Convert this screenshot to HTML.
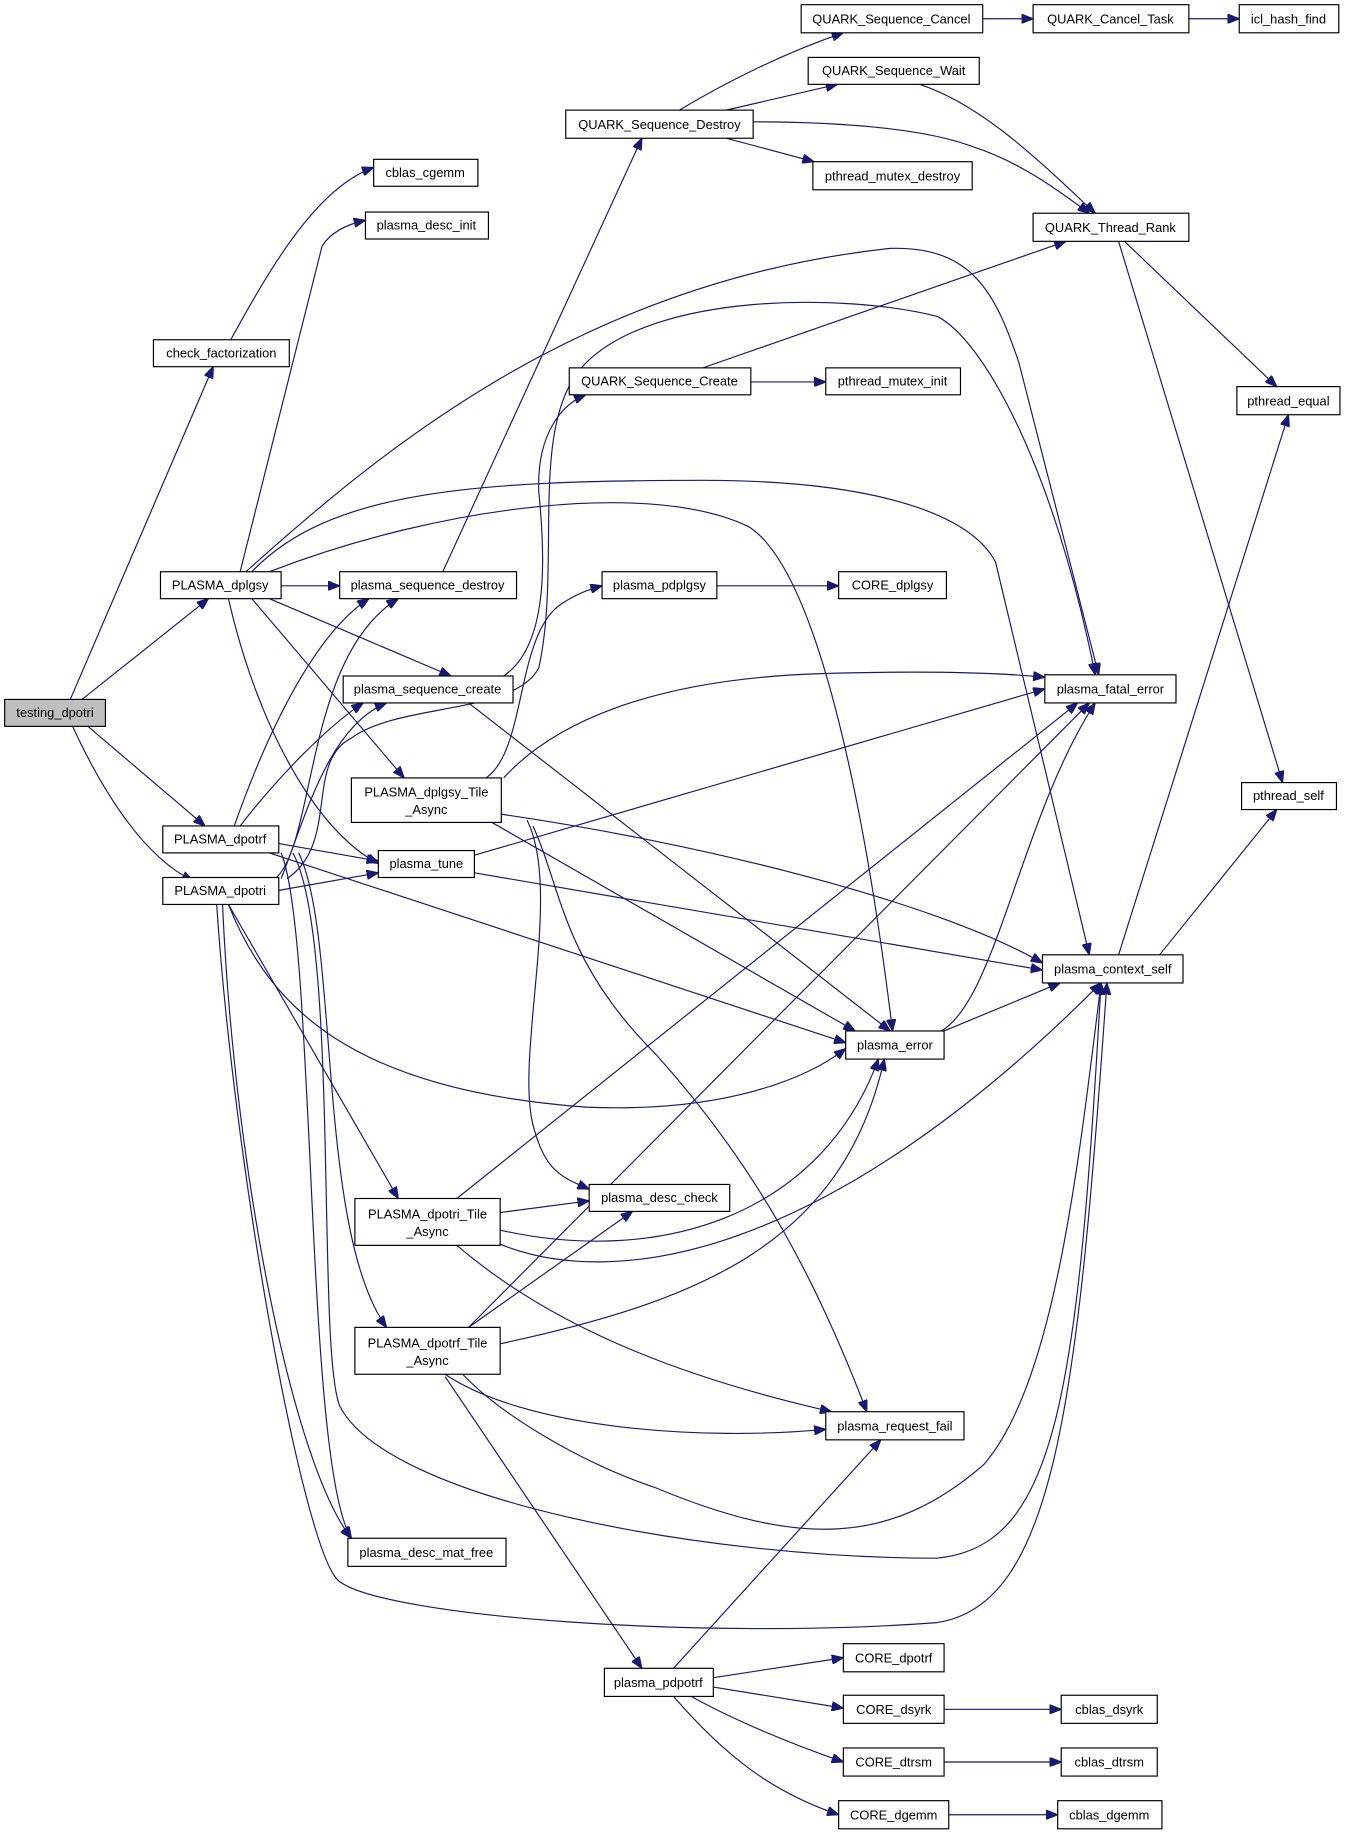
<!DOCTYPE html>
<html><head><meta charset="utf-8"><style>
html,body{margin:0;padding:0;background:#fff;}
svg{display:block;}
text{font-family:"Liberation Sans",Arial,sans-serif;font-size:11px;fill:#000;text-anchor:middle;}
.n rect{fill:#fff;stroke:#000;stroke-width:1;}
.e path{fill:none;stroke:#191970;stroke-width:1;marker-end:url(#a);}
</style></head><body>
<svg width="1347" height="1837" viewBox="0 0 1150 1568" preserveAspectRatio="none" xmlns="http://www.w3.org/2000/svg">
<defs><marker id="a" viewBox="0 0 10 8" refX="10" refY="4" markerWidth="10" markerHeight="8" markerUnits="userSpaceOnUse" orient="auto"><path d="M0,0 L10,4 L0,8 z" fill="#191970" stroke="#191970"/></marker></defs>
<g class="e">
<path d="M60,597 L182,313"/>
<path d="M70,597 L178,511"/>
<path d="M75,620 L175,705"/>
<path d="M62,620 C85,670 120,730 165,752"/>
<path d="M197,290 C230,230 270,160 319,143"/>
<path d="M205,488 L275,210 Q285,194 312,188"/>
<path d="M240,500 L290,500"/>
<path d="M230,511 L385,577"/>
<path d="M215,511 L345,664"/>
<path d="M195,511 C220,620 270,710 323,737"/>
<path d="M210,488 C330,380 500,240 760,212 C830,210 850,250 870,310 L938,576"/>
<path d="M215,488 C280,420 400,410 600,410 C750,410 830,440 850,480 L930,815"/>
<path d="M230,488 C380,430 560,410 640,450 C700,490 740,700 762,880"/>
<path d="M378,488 L548,118"/>
<path d="M580,94 C620,70 670,45 720,28"/>
<path d="M620,94 L715,72"/>
<path d="M620,118 L695,138"/>
<path d="M643,104 C720,104 790,110 830,125 C870,138 900,160 930,182"/>
<path d="M839,16 L882,16"/>
<path d="M1015,16 L1058,16"/>
<path d="M785,72 C840,90 890,140 935,182"/>
<path d="M600,314 L910,206"/>
<path d="M641,326 L705,326"/>
<path d="M430,577 C470,550 465,470 460,420 C458,370 480,345 500,337"/>
<path d="M400,600 L760,880"/>
<path d="M960,206 L1090,330"/>
<path d="M955,206 L1095,668"/>
<path d="M955,815 L1100,354"/>
<path d="M990,815 L1090,691"/>
<path d="M806,880 L905,839"/>
<path d="M800,882 C850,860 870,700 935,600"/>
<path d="M612,500 L716,500"/>
<path d="M415,664 C450,640 440,540 480,515 Q495,505 514,500"/>
<path d="M430,664 C470,620 550,580 700,575 C800,572 860,575 892,578"/>
<path d="M428,695 C600,720 800,770 890,822"/>
<path d="M420,702 L730,880"/>
<path d="M450,700 C480,760 440,900 455,960 C465,1000 480,1005 503,1015"/>
<path d="M455,705 C480,760 480,820 560,900 C650,1000 700,1100 740,1205"/>
<path d="M405,730 L892,588"/>
<path d="M405,745 L890,828"/>
<path d="M427,1035 L503,1025"/>
<path d="M390,1023 L920,600"/>
<path d="M427,1050 C560,1080 700,1040 750,904"/>
<path d="M427,1062 C520,1100 700,1080 940,839"/>
<path d="M390,1063 C480,1140 600,1180 710,1205"/>
<path d="M400,1133 L930,600"/>
<path d="M400,1133 L540,1034"/>
<path d="M427,1147 C600,1110 720,1060 755,904"/>
<path d="M380,1173 C450,1220 600,1230 705,1220"/>
<path d="M395,1173 C430,1210 500,1250 560,1270 C680,1320 760,1320 840,1250 C900,1180 920,1000 940,839"/>
<path d="M380,1175 L548,1424"/>
<path d="M575,1424 L752,1229"/>
<path d="M609,1432 L720,1415"/>
<path d="M609,1440 L720,1458"/>
<path d="M590,1448 C630,1470 680,1490 720,1504"/>
<path d="M575,1448 C620,1500 660,1530 716,1549"/>
<path d="M806,1459 L906,1459"/>
<path d="M806,1504 L906,1504"/>
<path d="M810,1549 L903,1549"/>
<path d="M200,705 C230,620 270,540 315,511"/>
<path d="M205,705 C240,660 280,620 310,600"/>
<path d="M238,720 L323,735"/>
<path d="M230,728 L722,890"/>
<path d="M255,728 C290,800 270,1050 330,1133"/>
<path d="M240,728 C270,800 260,1250 300,1313"/>
<path d="M250,728 C290,800 270,1150 290,1200 C330,1280 600,1330 800,1330 C900,1320 920,1200 940,839"/>
<path d="M235,750 C270,720 260,560 340,511"/>
<path d="M240,750 C260,700 280,620 330,600"/>
<path d="M238,760 L323,745"/>
<path d="M195,772 C230,860 300,930 500,945 C620,950 690,920 722,895"/>
<path d="M195,772 L340,1023"/>
<path d="M190,772 C200,1000 250,1250 300,1313"/>
<path d="M185,772 C200,1000 260,1330 290,1350 C330,1380 600,1400 800,1385 C900,1370 920,1200 945,839"/>
<path d="M245,750 C290,720 260,650 300,630 C340,600 440,610 460,570 C480,480 450,360 500,310 C560,250 720,250 800,270 C840,290 900,400 935,576"/>
</g>
<g class="n">
<rect x="4" y="597" width="86" height="23" style="fill:#bfbfbf"/><text x="47" y="612">testing_dpotri</text>
<rect x="131" y="290" width="116" height="23"/><text x="189" y="305">check_factorization</text>
<rect x="319" y="136" width="89" height="23"/><text x="363" y="151">cblas_cgemm</text>
<rect x="312" y="181" width="105" height="23"/><text x="364" y="196">plasma_desc_init</text>
<rect x="137" y="488" width="103" height="23"/><text x="188" y="503">PLASMA_dplgsy</text>
<rect x="290" y="488" width="151" height="23"/><text x="365" y="503">plasma_sequence_destroy</text>
<rect x="293" y="577" width="145" height="23"/><text x="365" y="592">plasma_sequence_create</text>
<rect x="300" y="664" width="128" height="38"/><text x="364" y="680">PLASMA_dplgsy_Tile</text><text x="364" y="695">_Async</text>
<rect x="139" y="705" width="99" height="23"/><text x="188" y="720">PLASMA_dpotrf</text>
<rect x="139" y="749" width="99" height="23"/><text x="188" y="764">PLASMA_dpotri</text>
<rect x="323" y="726" width="82" height="23"/><text x="364" y="741">plasma_tune</text>
<rect x="483" y="94" width="160" height="24"/><text x="563" y="110">QUARK_Sequence_Destroy</text>
<rect x="486" y="314" width="155" height="23"/><text x="563" y="329">QUARK_Sequence_Create</text>
<rect x="514" y="488" width="98" height="23"/><text x="563" y="503">plasma_pdplgsy</text>
<rect x="684" y="4" width="155" height="24"/><text x="761" y="20">QUARK_Sequence_Cancel</text>
<rect x="690" y="49" width="146" height="23"/><text x="763" y="64">QUARK_Sequence_Wait</text>
<rect x="694" y="138" width="136" height="24"/><text x="762" y="154">pthread_mutex_destroy</text>
<rect x="705" y="314" width="115" height="23"/><text x="762" y="329">pthread_mutex_init</text>
<rect x="716" y="488" width="92" height="23"/><text x="762" y="503">CORE_dplgsy</text>
<rect x="882" y="4" width="133" height="24"/><text x="948" y="20">QUARK_Cancel_Task</text>
<rect x="1058" y="4" width="85" height="24"/><text x="1100" y="20">icl_hash_find</text>
<rect x="882" y="182" width="133" height="24"/><text x="948" y="198">QUARK_Thread_Rank</text>
<rect x="1056" y="330" width="88" height="24"/><text x="1100" y="346">pthread_equal</text>
<rect x="1060" y="668" width="81" height="23"/><text x="1100" y="683">pthread_self</text>
<rect x="892" y="576" width="112" height="24"/><text x="948" y="592">plasma_fatal_error</text>
<rect x="890" y="815" width="120" height="24"/><text x="950" y="831">plasma_context_self</text>
<rect x="722" y="880" width="84" height="24"/><text x="764" y="896">plasma_error</text>
<rect x="503" y="1011" width="120" height="23"/><text x="563" y="1026">plasma_desc_check</text>
<rect x="303" y="1023" width="124" height="40"/><text x="365" y="1040">PLASMA_dpotri_Tile</text><text x="365" y="1055">_Async</text>
<rect x="303" y="1133" width="124" height="40"/><text x="365" y="1150">PLASMA_dpotrf_Tile</text><text x="365" y="1165">_Async</text>
<rect x="705" y="1205" width="118" height="24"/><text x="764" y="1221">plasma_request_fail</text>
<rect x="297" y="1313" width="135" height="24"/><text x="364" y="1329">plasma_desc_mat_free</text>
<rect x="516" y="1424" width="93" height="24"/><text x="562" y="1440">plasma_pdpotrf</text>
<rect x="720" y="1403" width="86" height="24"/><text x="763" y="1419">CORE_dpotrf</text>
<rect x="720" y="1447" width="86" height="24"/><text x="763" y="1463">CORE_dsyrk</text>
<rect x="720" y="1492" width="86" height="24"/><text x="763" y="1508">CORE_dtrsm</text>
<rect x="716" y="1537" width="94" height="24"/><text x="763" y="1553">CORE_dgemm</text>
<rect x="906" y="1447" width="82" height="24"/><text x="947" y="1463">cblas_dsyrk</text>
<rect x="906" y="1492" width="82" height="24"/><text x="947" y="1508">cblas_dtrsm</text>
<rect x="903" y="1537" width="89" height="24"/><text x="947" y="1553">cblas_dgemm</text>
</g>
</svg>
</body></html>
